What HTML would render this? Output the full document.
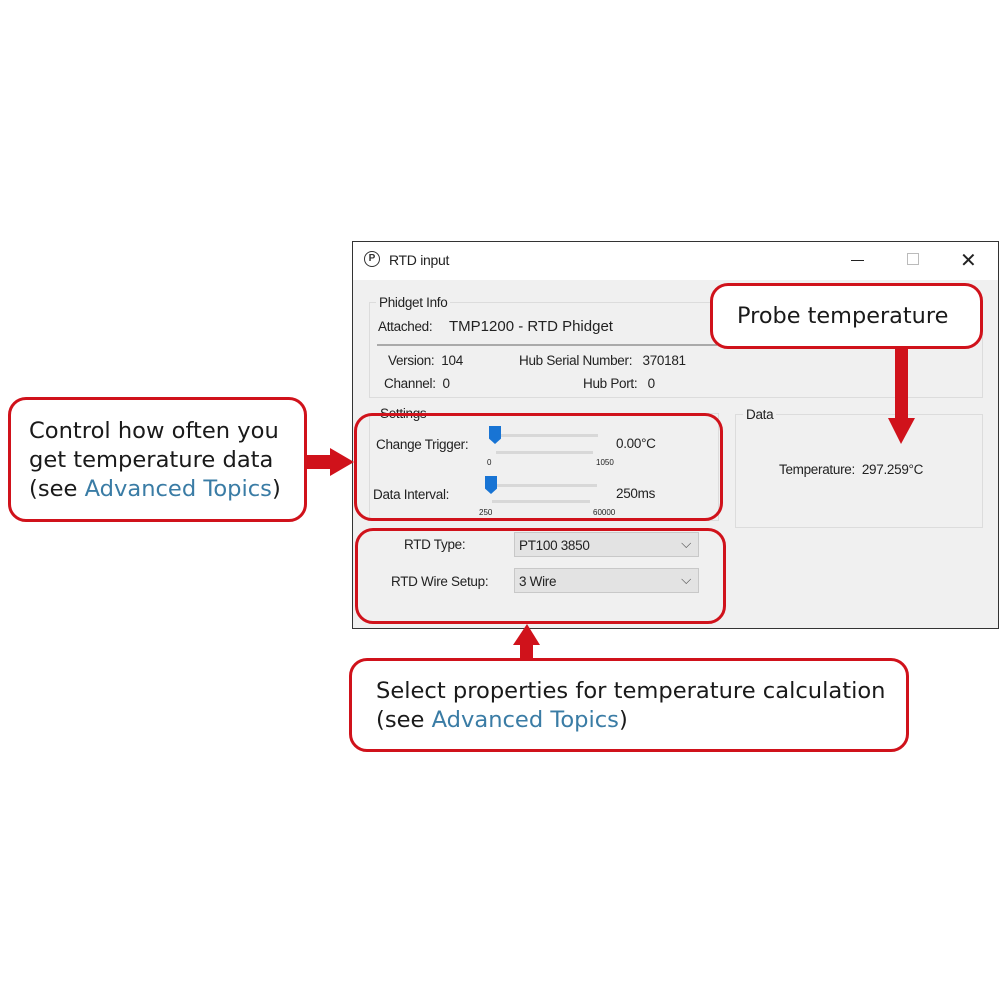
<!DOCTYPE html>
<html><head><meta charset="utf-8"><style>
body{margin:0;width:1000px;height:1000px;background:#fff;position:relative;overflow:hidden;font-family:"Liberation Sans","DejaVu Sans",sans-serif;}
.a{position:absolute;}
.w{font-size:13.5px;color:#222;letter-spacing:-0.3px;}
.call{position:absolute;border:3px solid #d0121b;border-radius:18px;background:#fff;box-sizing:border-box;font-family:"DejaVu Sans","Liberation Sans",sans-serif;color:#1a1a1a;font-size:22.6px;line-height:29px;white-space:nowrap;}
.hl{position:absolute;border:3px solid #d0121b;border-radius:18px;box-sizing:border-box;}
.lk{color:#3a7ca5;}
.gb{position:absolute;border:1px solid #dcdcdc;box-sizing:border-box;}
.gl{position:absolute;background:#f0f0f0;padding:0 3px;font-size:13.5px;color:#222;letter-spacing:-0.3px;}
.track{position:absolute;height:3px;background:#d8d8d8;}
.thumb{position:absolute;width:12px;height:18px;background:#1874d4;clip-path:polygon(0 0,100% 0,100% 70%,50% 100%,0 70%);}
.sel{position:absolute;background:#e3e3e3;border:1px solid #c8c8c8;box-sizing:border-box;font-size:13.5px;color:#222;padding:5px 4px;letter-spacing:-0.3px;}
.tk{position:absolute;font-size:8px;color:#222;}
</style></head><body>
<div class="a" style="left:352px;top:241px;width:647px;height:388px;border:1px solid #333;box-sizing:border-box;background:#f0f0f0;">
  <div class="a" style="left:0;top:0;width:645px;height:38px;background:#fff;"></div>
</div>
<div class="a" style="left:364px;top:251px;width:14px;height:14px;border:1.5px solid #333;border-radius:50%;font-size:10px;line-height:14px;text-align:center;font-weight:bold;color:#333;">P</div>
<div class="a w" style="left:389px;top:252px;font-size:14px;">RTD input</div>
<div class="a" style="left:851px;top:260px;width:13px;height:1px;background:#222;"></div>
<div class="a" style="left:907px;top:253px;width:10px;height:10px;border:1px solid #bbb;"></div>
<div class="a" style="left:960px;top:248px;font-size:20px;color:#222;">✕</div>

<div class="gb" style="left:369px;top:302px;width:614px;height:96px;"></div>
<div class="gl" style="left:376px;top:295px;">Phidget Info</div>
<div class="a w" style="left:378px;top:319px;">Attached:</div>
<div class="a" style="left:449px;top:318px;font-size:15px;color:#222;">TMP1200 - RTD Phidget</div>
<div class="a" style="left:377px;top:344px;width:340px;height:2px;background:#aaa;"></div>
<div class="a w" style="left:388px;top:353px;">Version:&nbsp; 104</div>
<div class="a w" style="left:519px;top:353px;">Hub Serial Number:&nbsp;&nbsp; 370181</div>
<div class="a w" style="left:384px;top:376px;">Channel:&nbsp; 0</div>
<div class="a w" style="left:583px;top:376px;">Hub Port:&nbsp;&nbsp; 0</div>

<div class="gb" style="left:369px;top:413px;width:350px;height:108px;"></div>
<div class="gl" style="left:377px;top:406px;">Settings</div>
<div class="a w" style="left:376px;top:437px;">Change Trigger:</div>
<div class="track" style="left:498px;top:434px;width:100px;"></div>
<div class="track" style="left:496px;top:451px;width:97px;"></div>
<div class="thumb" style="left:489px;top:426px;"></div>
<div class="tk" style="left:487px;top:458px;">0</div>
<div class="tk" style="left:596px;top:458px;">1050</div>
<div class="a w" style="left:616px;top:436px;">0.00°C</div>
<div class="a w" style="left:373px;top:487px;">Data Interval:</div>
<div class="track" style="left:497px;top:484px;width:100px;"></div>
<div class="track" style="left:492px;top:500px;width:98px;"></div>
<div class="thumb" style="left:485px;top:476px;"></div>
<div class="tk" style="left:479px;top:508px;">250</div>
<div class="tk" style="left:593px;top:508px;">60000</div>
<div class="a w" style="left:616px;top:486px;">250ms</div>

<div class="gb" style="left:735px;top:414px;width:248px;height:114px;"></div>
<div class="gl" style="left:743px;top:407px;">Data</div>
<div class="a w" style="left:779px;top:462px;">Temperature:&nbsp; 297.259°C</div>

<div class="a w" style="left:404px;top:537px;">RTD Type:</div>
<div class="sel" style="left:514px;top:532px;width:185px;height:25px;">PT100 3850<span style="position:absolute;right:7px;top:3px;color:#555;">⌵</span></div>
<div class="a w" style="left:391px;top:574px;">RTD Wire Setup:</div>
<div class="sel" style="left:514px;top:568px;width:185px;height:25px;">3 Wire<span style="position:absolute;right:7px;top:3px;color:#555;">⌵</span></div>

<div class="hl" style="left:354px;top:413px;width:369px;height:108px;"></div>
<div class="hl" style="left:355px;top:528px;width:371px;height:96px;"></div>

<div class="call" style="left:8px;top:397px;width:299px;height:125px;padding:17px 0 0 18px;">Control how often you<br>get temperature data<br>(see <span class="lk">Advanced Topics</span>)</div>
<div class="call" style="left:710px;top:283px;width:273px;height:66px;padding:16px 0 0 24px;font-size:22.4px;">Probe temperature</div>
<div class="call" style="left:349px;top:658px;width:560px;height:94px;padding:16px 0 0 24px;">Select properties for temperature calculation<br>(see <span class="lk">Advanced Topics</span>)</div>

<svg class="a" style="left:0;top:0" width="1000" height="1000">
<g fill="#d0121b">
<rect x="306" y="455" width="26" height="14"/><polygon points="330,448 354,462 330,476"/>
<rect x="895" y="348" width="13" height="72"/><polygon points="888,418 915,418 901,444"/>
<rect x="520" y="642" width="13" height="17"/><polygon points="513,645 540,645 527,624"/>
</g></svg>
</body></html>
